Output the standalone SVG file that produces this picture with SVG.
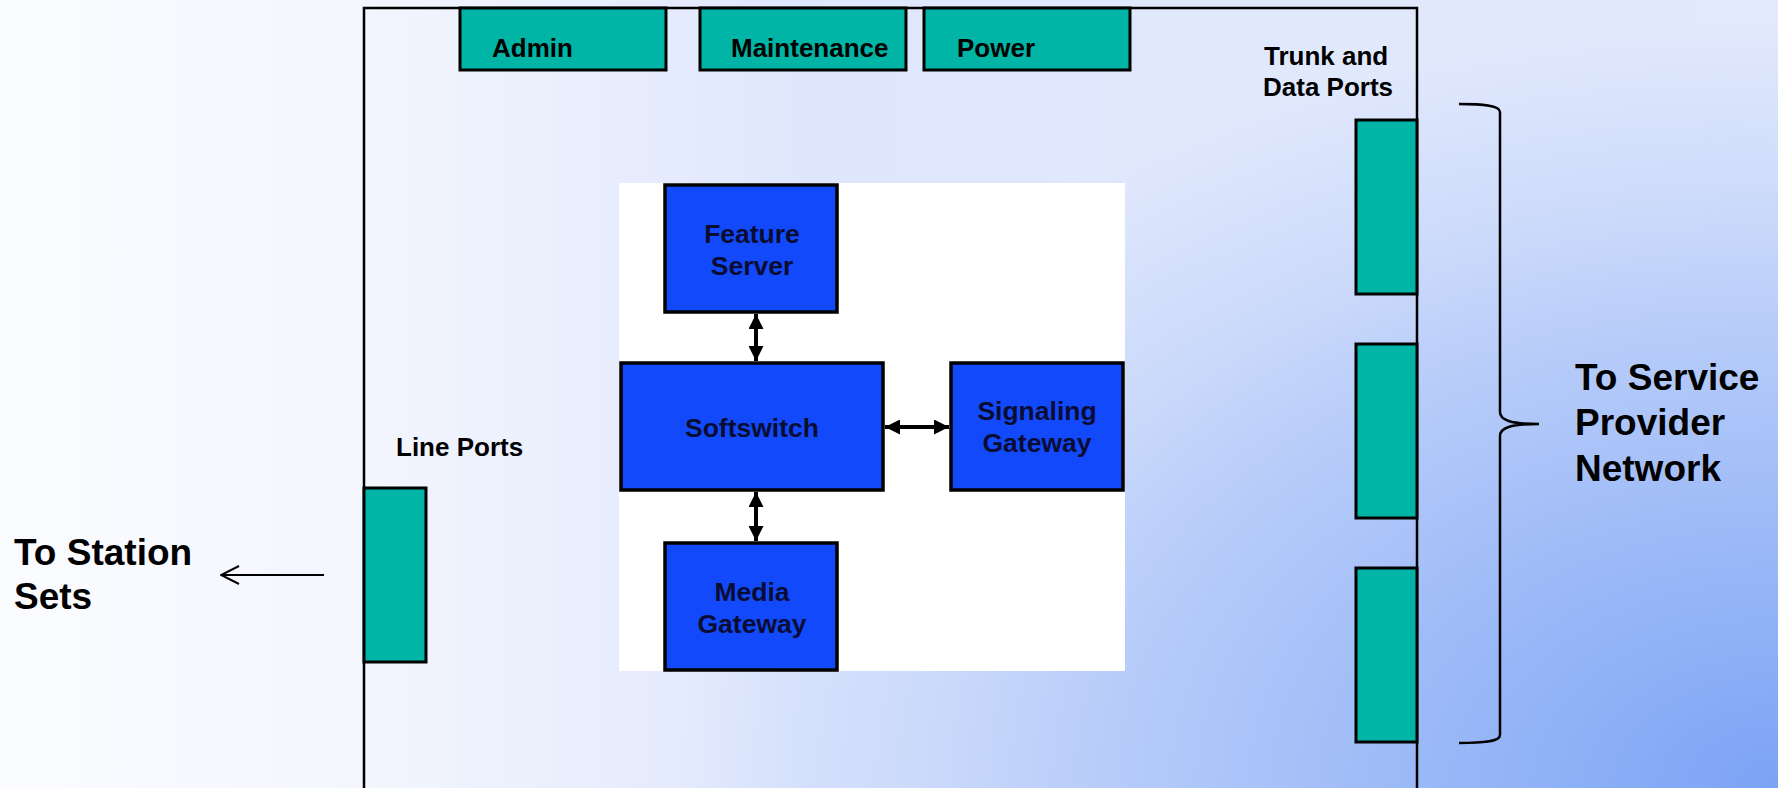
<svg xmlns="http://www.w3.org/2000/svg" width="1778" height="788" viewBox="0 0 1778 788">
  <defs>
    <linearGradient id="base" gradientUnits="userSpaceOnUse" x1="0" y1="0" x2="1778" y2="0">
      <stop offset="0" stop-color="#FBFCFF"/>
      <stop offset="0.2" stop-color="#F4F6FE"/>
      <stop offset="0.3" stop-color="#EBF0FD"/>
      <stop offset="0.45" stop-color="#DFE7FC"/>
      <stop offset="1" stop-color="#E2E9FC"/>
    </linearGradient>
    <radialGradient id="blue" gradientUnits="userSpaceOnUse" cx="0" cy="0" r="1" gradientTransform="translate(1778,788) scale(1300,900)">
      <stop offset="0" stop-color="#7BA3F5" stop-opacity="1"/>
      <stop offset="0.3" stop-color="#7BA3F5" stop-opacity="0.66"/>
      <stop offset="0.5" stop-color="#7BA3F5" stop-opacity="0.43"/>
      <stop offset="0.66" stop-color="#7BA3F5" stop-opacity="0.2"/>
      <stop offset="0.85" stop-color="#7BA3F5" stop-opacity="0"/>
    </radialGradient>
    <marker id="ah" viewBox="0 0 10 10" refX="10" refY="5" markerWidth="15" markerHeight="15" markerUnits="userSpaceOnUse" orient="auto-start-reverse">
      <path d="M0,0 L10,5 L0,10 z" fill="#000"/>
    </marker>
    <marker id="open" viewBox="0 0 20 20" refX="19" refY="10" markerWidth="20" markerHeight="20" markerUnits="userSpaceOnUse" orient="auto">
      <path d="M1,1 L19,10 L1,19" fill="none" stroke="#000" stroke-width="2"/>
    </marker>
    <style>
      .port { fill: #00B5A5; stroke: #000; stroke-width: 3; }
      .blue { fill: #1249FA; stroke: #000; stroke-width: 3.5; }
      .frame { fill: none; stroke: #000; stroke-width: 2.5; }
      .lbl { font-family: "Liberation Sans", Arial, sans-serif; font-weight: bold; font-size: 26px; fill: #000; }
      .blbl { font-family: "Liberation Sans", Arial, sans-serif; font-weight: bold; font-size: 26.5px; fill: #0A0D33; text-anchor: middle; }
      .big { font-family: "Liberation Sans", Arial, sans-serif; font-weight: bold; font-size: 37px; fill: #000; }
      .dbl { stroke: #000; stroke-width: 4; fill: none; marker-start: url(#ah); marker-end: url(#ah); }
    </style>
  </defs>

  <rect x="0" y="0" width="1778" height="788" fill="url(#base)"/>
  <rect x="0" y="0" width="1778" height="788" fill="url(#blue)"/>

  <g id="chassis">
    <path class="frame" d="M364,790 L364,8 L1417,8 L1417,790"/>
  </g>

  <g id="core-area">
    <rect x="619" y="183" width="506" height="488" fill="#FFFFFF"/>
  </g>

  <g id="admin">
    <rect class="port" x="460" y="8" width="206" height="62"/>
    <text class="lbl" x="492" y="57">Admin</text>
  </g>
  <g id="maintenance">
    <rect class="port" x="700" y="8" width="206" height="62"/>
    <text class="lbl" x="731" y="57">Maintenance</text>
  </g>
  <g id="power">
    <rect class="port" x="924" y="8" width="206" height="62"/>
    <text class="lbl" x="957" y="57">Power</text>
  </g>

  <g id="line-ports">
    <text class="lbl" x="396" y="456">Line Ports</text>
    <rect class="port" x="364" y="488" width="62" height="174"/>
  </g>

  <g id="trunk-ports">
    <text class="lbl" x="1264" y="65">Trunk and</text>
    <text class="lbl" x="1263" y="96">Data Ports</text>
    <rect class="port" x="1356" y="120" width="61" height="174"/>
    <rect class="port" x="1356" y="344" width="61" height="174"/>
    <rect class="port" x="1356" y="568" width="61" height="174"/>
  </g>

  <g id="feature-server">
    <rect class="blue" x="665" y="185" width="172" height="127"/>
    <text class="blbl" x="752" y="243">Feature</text>
    <text class="blbl" x="752" y="275">Server</text>
  </g>
  <g id="softswitch">
    <rect class="blue" x="621" y="363" width="262" height="127"/>
    <text class="blbl" x="752" y="437">Softswitch</text>
  </g>
  <g id="signaling-gateway">
    <rect class="blue" x="951" y="363" width="172" height="127"/>
    <text class="blbl" x="1037" y="420">Signaling</text>
    <text class="blbl" x="1037" y="452">Gateway</text>
  </g>
  <g id="media-gateway">
    <rect class="blue" x="665" y="543" width="172" height="127"/>
    <text class="blbl" x="752" y="601">Media</text>
    <text class="blbl" x="752" y="633">Gateway</text>
  </g>

  <g id="connectors">
    <line class="dbl" x1="756" y1="314" x2="756" y2="361"/>
    <line class="dbl" x1="885" y1="427" x2="949" y2="427"/>
    <line class="dbl" x1="756" y1="492" x2="756" y2="541"/>
    <line x1="324" y1="575" x2="221" y2="575" stroke="#000" stroke-width="2" marker-end="url(#open)"/>
  </g>

  <g id="station-sets">
    <text class="big" x="14" y="565">To Station</text>
    <text class="big" x="14" y="609">Sets</text>
  </g>

  <g id="service-provider">
    <path d="M1459,104 C1482,104 1500,105 1500,112 L1500,412 C1500,420 1510,424 1539,424 C1510,424 1500,428 1500,436 L1500,735 C1500,742 1482,743 1459,743" fill="none" stroke="#000" stroke-width="2.5"/>
    <text class="big" x="1575" y="390">To Service</text>
    <text class="big" x="1575" y="435">Provider</text>
    <text class="big" x="1575" y="481">Network</text>
  </g>
</svg>
